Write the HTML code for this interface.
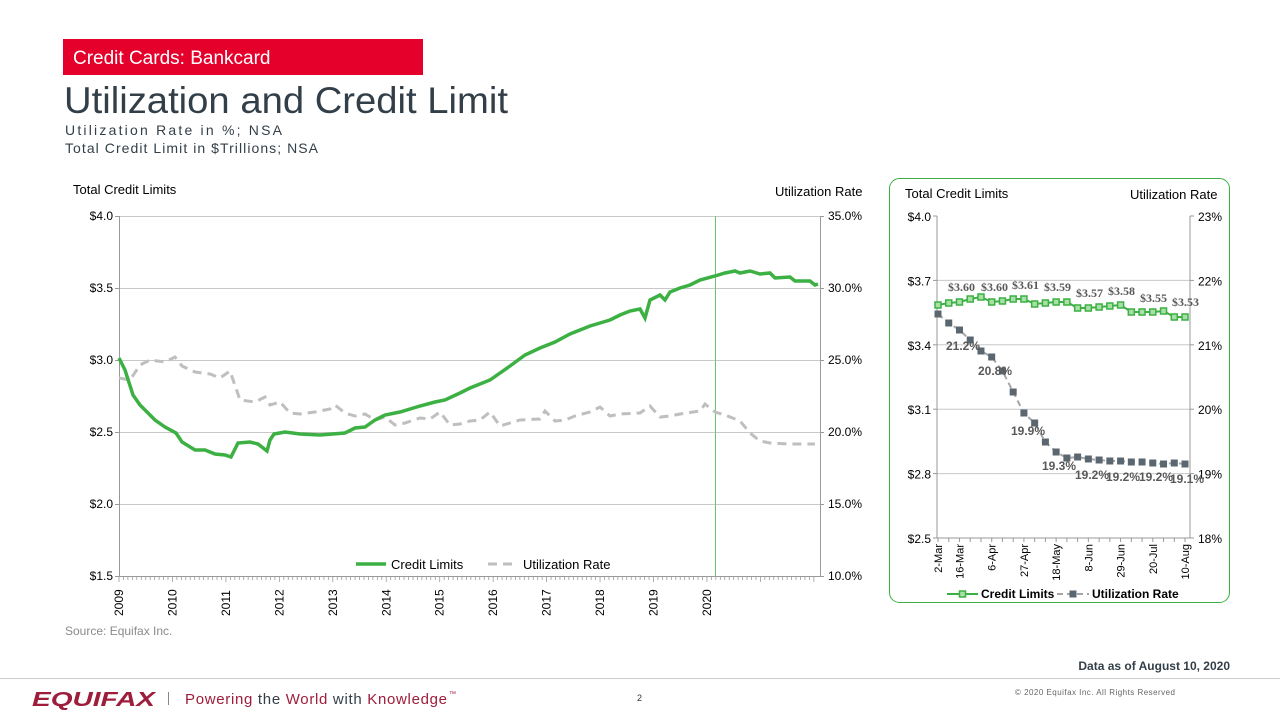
<!DOCTYPE html>
<html><head><meta charset="utf-8"><style>
body{margin:0;width:1280px;height:720px;background:#fff;font-family:"Liberation Sans",sans-serif;overflow:hidden}
svg{position:absolute;left:0;top:0}
</style></head><body>
<svg id="s" width="1280" height="720" xmlns="http://www.w3.org/2000/svg" font-family="Liberation Sans, sans-serif">
<rect x="63" y="39" width="360" height="36" fill="#e4002b"/>
<text x="73" y="64" font-size="19" fill="#fff">Credit Cards: Bankcard</text>
<text x="64" y="113" font-size="37" fill="#333f48" textLength="444" lengthAdjust="spacingAndGlyphs">Utilization and Credit Limit</text>
<text x="65" y="135" font-size="14" fill="#333f48" textLength="217">Utilization Rate in %; NSA</text>
<text x="65" y="153" font-size="14" fill="#333f48" textLength="253">Total Credit Limit in $Trillions; NSA</text>
<text x="73" y="194" font-size="13" fill="#000">Total Credit Limits</text>
<text x="775" y="196" font-size="13" fill="#000">Utilization Rate</text>
<g id="main" font-size="12" fill="#000"></g>
<rect x="889.5" y="178.5" width="340" height="424" rx="10" fill="none" stroke="#3cb043" stroke-width="1"/>
<text x="905" y="198" font-size="13">Total Credit Limits</text>
<text x="1130" y="199" font-size="13">Utilization Rate</text>
<g id="side" font-size="12"></g>
<text x="65" y="635" font-size="12" fill="#8a8a8a">Source: Equifax Inc.</text>
<text x="1230" y="670" font-size="12" font-weight="bold" text-anchor="end" fill="#333f48">Data as of August 10, 2020</text>
<line x1="0" y1="678.5" x2="1280" y2="678.5" stroke="#ccc"/>
<text x="32" y="706" font-size="20" font-weight="bold" font-style="italic" fill="#9d1d3a" textLength="123" lengthAdjust="spacingAndGlyphs">EQUIFAX</text>
<line x1="168.5" y1="692" x2="168.5" y2="705" stroke="#888"/>
<text x="185" y="704" font-size="15" textLength="262"><tspan fill="#9d1d3a">Powering </tspan><tspan fill="#333f48">the </tspan><tspan fill="#9d1d3a">World </tspan><tspan fill="#333f48">with </tspan><tspan fill="#9d1d3a">Knowledge</tspan></text>
<text x="449" y="696" font-size="7" fill="#9d1d3a">™</text>
<text x="637" y="701" font-size="9" fill="#333">2</text>
<text x="1015" y="695" font-size="8" fill="#666" textLength="160">© 2020 Equifax Inc. All Rights Reserved</text>
</svg>
<script>
const NS="http://www.w3.org/2000/svg";
function el(p,t,a,txt){const e=document.createElementNS(NS,t);for(const k in a)e.setAttribute(k,a[k]);if(txt!==undefined)e.textContent=txt;p.appendChild(e);return e;}
const m=document.getElementById('main');
const L=119,R=820,T=216,B=576;
["$4.0","$3.5","$3.0","$2.5","$2.0","$1.5"].forEach((l,i)=>{const y=T+i*72;
 if(i<5)el(m,'line',{x1:L,y1:y+.5,x2:R,y2:y+.5,stroke:'#c8c8c8'});
 el(m,'text',{x:L-6,y:y+4,'text-anchor':'end'},l);
 el(m,'text',{x:R+8,y:y+4},["35.0%","30.0%","25.0%","20.0%","15.0%","10.0%"][i]);
 el(m,'line',{x1:L-4,y1:y+.5,x2:L,y2:y+.5,stroke:'#999'});el(m,'line',{x1:R,y1:y+.5,x2:R+4,y2:y+.5,stroke:'#999'});});
el(m,'line',{x1:L+.5,y1:T,x2:L+.5,y2:B,stroke:'#999'});
el(m,'line',{x1:R+.5,y1:T,x2:R+.5,y2:B,stroke:'#999'});
el(m,'line',{x1:L,y1:B+.5,x2:R,y2:B+.5,stroke:'#999'});
const py=53.45;
for(let i=0;i<=13*12;i++){const x=L+i*py/12;if(x>R)break;el(m,'line',{x1:x,y1:B,x2:x,y2:B+(i%12==0?6:4),stroke:'#999','stroke-width':.8});}
for(let y=0;y<12;y++){const x=L+y*py+4;el(m,'text',{transform:`translate(${x},${B+40}) rotate(-90)`,'font-size':12},2009+y);}
el(m,'line',{x1:715.5,y1:T,x2:715.5,y2:B,stroke:'#6cc46f','stroke-width':1});
const g="119,358 125,370 133,395 140,405 147,412 155,420 165,427 176,433 182,442 195,450 205,450 215,454 225,455 231,457 238,443 250,442 258,444 267,451 270,440 274,434 285,432 300,434 320,435 345,433 355,428 365,427 375,420 385,415 400,412 420,406 435,402 445,400 460,393 470,388 490,380 510,366 525,355 540,348 555,342 570,334 580,330 590,326 600,323 610,320 620,315 630,311 640,309 645,318 650,300 660,295 665,300 670,292 680,288 690,285 700,280 715,276 725,273 735,271 740,273 750,271 760,274 770,273 775,278 790,277 795,281 810,281 815,285 818,284";
const u="119,378 130,380 140,365 150,360 165,362 175,357 182,366 195,372 210,374 220,378 230,371 240,400 255,402 265,397 270,405 280,402 290,413 300,414 315,412 330,409 335,405 345,413 355,416 365,414 375,420 385,417 395,425 405,423 420,418 430,419 440,412 450,425 460,424 470,421 480,420 490,412 500,426 510,423 520,420 540,419 545,411 555,421 565,420 575,416 590,412 600,407 610,416 620,414 640,413 650,406 660,417 670,416 680,414 700,411 705,404 715,412 725,415 740,421 750,433 760,441 770,443 790,444 815,444";
el(m,'polyline',{points:u,fill:'none',stroke:'#bfbfbf','stroke-width':3,'stroke-dasharray':'9,6'});
el(m,'polyline',{points:g,fill:'none',stroke:'#3cb043','stroke-width':3.5});
el(m,'line',{x1:356,y1:564,x2:386,y2:564,stroke:'#3cb043','stroke-width':3.5});
el(m,'text',{x:391,y:569,'font-size':13},'Credit Limits');
el(m,'line',{x1:488,y1:564,x2:518,y2:564,stroke:'#bfbfbf','stroke-width':3,'stroke-dasharray':'9,6'});
el(m,'text',{x:523,y:569,'font-size':13},'Utilization Rate');
const s=document.getElementById('side');
const sL=937,sR=1190,sT=216,sB=538,st=(sB-sT)/5;
["$4.0","$3.7","$3.4","$3.1","$2.8","$2.5"].forEach((l,i)=>{const y=sT+i*st;
 if(i>0&&i<5)el(s,'line',{x1:sL,y1:y,x2:sR,y2:y,stroke:'#c8c8c8'});
 el(s,'text',{x:sL-6,y:y+5,'text-anchor':'end'},l);
 el(s,'text',{x:sR+8,y:y+5},["23%","22%","21%","20%","19%","18%"][i]);
 el(s,'line',{x1:sL-4,y1:y,x2:sL,y2:y,stroke:'#999'});el(s,'line',{x1:sR,y1:y,x2:sR+4,y2:y,stroke:'#999'});});
el(s,'line',{x1:sL,y1:sT,x2:sL,y2:sB,stroke:'#999'});el(s,'line',{x1:sR,y1:sT,x2:sR,y2:sB,stroke:'#999'});
el(s,'line',{x1:sL,y1:sB,x2:sR,y2:sB,stroke:'#999'});
const gy=[305,303,302,299,297,302,301,299,299,304,303,302,302,308,308,307,306,305,312,312,312,311,317,317];
const uy=[314,323,330,340,351,357,371,392,413,423,442,452,458,457,459,460,461,461,462,462,463,464,463,464];
const xs=gy.map((_,i)=>938+i*10.74);
xs.forEach(x=>el(s,'line',{x1:x,y1:sB,x2:x,y2:sB+4,stroke:'#999'}));
["2-Mar","16-Mar","6-Apr","27-Apr","18-May","8-Jun","29-Jun","20-Jul","10-Aug"].forEach((l,i)=>{const idx=[0,2,5,8,11,14,17,20,23][i];
 el(s,'text',{transform:`translate(${xs[idx]+4},${sB+6}) rotate(-90)`,'text-anchor':'end','font-size':11},l);});
el(s,'polyline',{points:xs.map((x,i)=>x+','+uy[i]).join(' '),fill:'none',stroke:'#a6a6a6','stroke-width':2,'stroke-dasharray':'6,4'});
el(s,'polyline',{points:xs.map((x,i)=>x+','+gy[i]).join(' '),fill:'none',stroke:'#3cb043','stroke-width':2});
xs.forEach((x,i)=>{el(s,'rect',{x:x-3.5,y:uy[i]-3.5,width:7,height:7,fill:'#5b6770'});
 el(s,'rect',{x:x-3,y:gy[i]-3,width:6,height:6,fill:'#a8e0a8',stroke:'#3cb043','stroke-width':1.5});});
const gl=[["$3.60",948,291],["$3.60",981,291],["$3.61",1012,289],["$3.59",1044,291],["$3.57",1076,297],["$3.58",1108,295],["$3.55",1140,302],["$3.53",1172,306]];
gl.forEach(a=>el(s,'text',{x:a[1],y:a[2],'font-family':'Liberation Serif, serif','font-weight':'bold','font-size':12,fill:'#595959'},a[0]));
const ul=[["21.2%",946,350],["20.8%",978,375],["19.9%",1011,435],["19.3%",1042,470],["19.2%",1075,479],["19.2%",1106,481],["19.2%",1139,481],["19.1%",1170,483]];
ul.forEach(a=>el(s,'text',{x:a[1],y:a[2],'font-weight':'bold','font-size':12,fill:'#595959'},a[0]));
el(s,'line',{x1:947,y1:594,x2:978,y2:594,stroke:'#3cb043','stroke-width':2});
el(s,'rect',{x:959.5,y:591,width:6,height:6,fill:'#a8e0a8',stroke:'#3cb043','stroke-width':1.5});
el(s,'text',{x:981,y:598,'font-size':12,'font-weight':'bold'},'Credit Limits');
el(s,'line',{x1:1057,y1:594,x2:1089,y2:594,stroke:'#a6a6a6','stroke-width':2,'stroke-dasharray':'6,4'});
el(s,'rect',{x:1069.5,y:590.5,width:7,height:7,fill:'#5b6770'});
el(s,'text',{x:1092,y:598,'font-size':12,'font-weight':'bold'},'Utilization Rate');
</script>
</body></html>
